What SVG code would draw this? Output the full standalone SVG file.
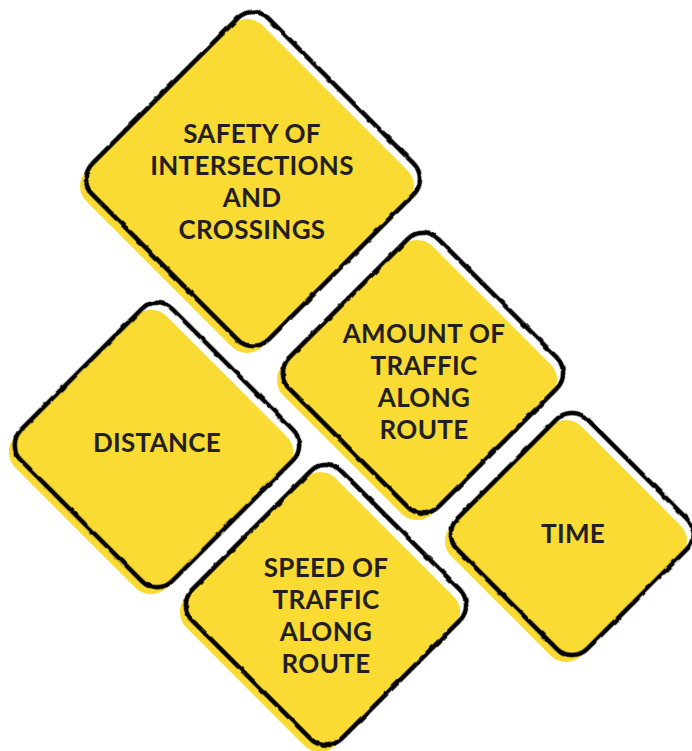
<svg xmlns="http://www.w3.org/2000/svg" width="692" height="751" viewBox="0 0 692 751">
<defs>
<style>
.fill{fill:#F9DB33;}
.line{fill:none;stroke:#000;stroke-width:4.5;filter:url(#rough);}
.lbl{font-family:Lato,"Noto Sans",sans-serif;font-weight:700;font-size:26px;letter-spacing:0.3px;fill:#231F20;text-anchor:middle;}
</style>
<filter id="rough" x="-10%" y="-10%" width="120%" height="120%">
<feTurbulence type="fractalNoise" baseFrequency="0.09" numOctaves="2" seed="4" result="n"/>
<feDisplacementMap in="SourceGraphic" in2="n" scale="3" xChannelSelector="R" yChannelSelector="G"/>
</filter>
</defs>
<rect width="692" height="751" fill="#fff"/>
<g id="connectors"></g>
<g id="node-safety" transform="translate(253,179)">
<rect class="fill" transform="translate(-6,7) rotate(45)" x="-124.5" y="-124.5" width="249" height="249" rx="22"/>
<rect class="line" transform="rotate(45)" x="-124.5" y="-124.5" width="249" height="249" rx="22"/>
<text class="lbl" x="-1" y="-36">SAFETY OF</text>
<text class="lbl" x="-1" y="-4">INTERSECTIONS</text>
<text class="lbl" x="-1" y="28">AND</text>
<text class="lbl" x="-1" y="60">CROSSINGS</text>
</g>
<g id="node-distance" transform="translate(157,445)">
<rect class="fill" transform="translate(-6,7) rotate(45)" x="-107" y="-107" width="214" height="214" rx="22"/>
<rect class="line" transform="rotate(45)" x="-107" y="-107" width="214" height="214" rx="22"/>
<text class="lbl" x="0" y="7">DISTANCE</text>
</g>
<g id="node-amount" transform="translate(423,373)">
<rect class="fill" transform="translate(-6,7) rotate(45)" x="-105.5" y="-105.5" width="211" height="211" rx="22"/>
<rect class="line" transform="rotate(45)" x="-105.5" y="-105.5" width="211" height="211" rx="22"/>
<text class="lbl" x="1" y="-30">AMOUNT OF</text>
<text class="lbl" x="1" y="2">TRAFFIC</text>
<text class="lbl" x="1" y="34">ALONG</text>
<text class="lbl" x="1" y="66">ROUTE</text>
</g>
<g id="node-time" transform="translate(572,534)">
<rect class="fill" transform="translate(-6,7) rotate(45)" x="-92" y="-92" width="184" height="184" rx="22"/>
<rect class="line" transform="rotate(45)" x="-92" y="-92" width="184" height="184" rx="22"/>
<text class="lbl" x="1" y="9">TIME</text>
</g>
<g id="node-speed" transform="translate(326,605)">
<rect class="fill" transform="translate(-6,7) rotate(45)" x="-105.5" y="-105.5" width="211" height="211" rx="22"/>
<rect class="line" transform="rotate(45)" x="-105.5" y="-105.5" width="211" height="211" rx="22"/>
<text class="lbl" x="0" y="-28">SPEED OF</text>
<text class="lbl" x="0" y="4">TRAFFIC</text>
<text class="lbl" x="0" y="36">ALONG</text>
<text class="lbl" x="0" y="68">ROUTE</text>
</g>
</svg>
